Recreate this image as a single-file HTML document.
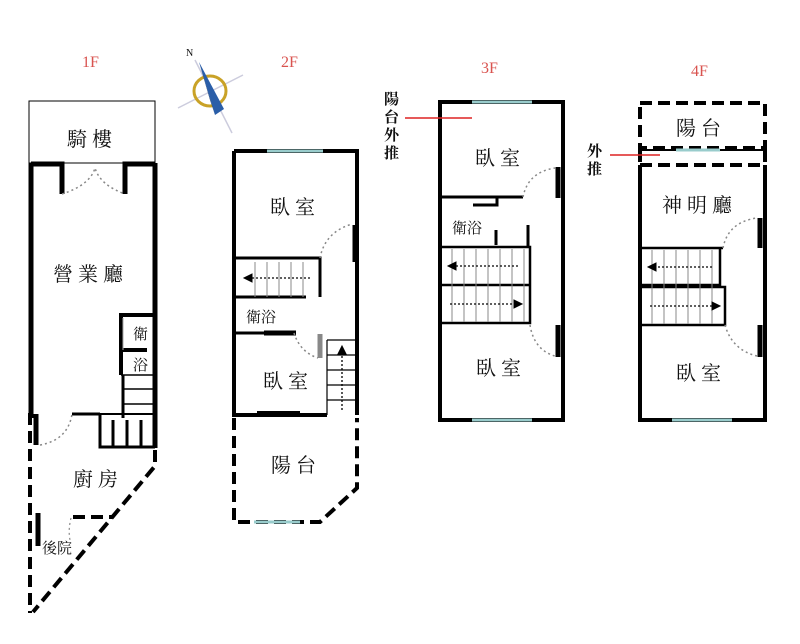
<!DOCTYPE html>
<html><head><meta charset="utf-8"><style>
html,body{margin:0;padding:0;background:#fff}
svg{display:block}
text{font-family:"Liberation Serif","Noto Serif CJK SC",serif;fill:#111}
.r{fill:#d9534f;font-size:16px}
</style></head><body>
<svg width="800" height="644" viewBox="0 0 800 644" xmlns="http://www.w3.org/2000/svg">
<text class="r" x="82" y="67">1F</text>
<text class="r" x="281" y="67">2F</text>
<text class="r" x="481" y="73">3F</text>
<text class="r" x="691" y="76">4F</text>
<g>
<line x1="178" y1="108" x2="243" y2="75" stroke="#ccd" stroke-width="1.5"/>
<line x1="195" y1="60" x2="232" y2="133" stroke="#ccd" stroke-width="1.5"/>
<ellipse cx="210" cy="91" rx="16" ry="15" fill="none" stroke="#c9a227" stroke-width="3"/>
<polygon points="199,62 224,109 215,115" fill="#2a5ea8"/>
<polygon points="199,62 210,100 215,115" fill="#163a70"/>
<text x="186" y="56" font-size="10">N</text>
</g>
<g fill="none" stroke="#000" stroke-linecap="butt">
<rect x="29" y="101" width="126" height="62" stroke-width="1"/>
<path d="M31,163 V418 M155,163 V448 M31,164 H62 V194 M125,194 V164 H155" stroke-width="5"/>
<path d="M62,194 Q90,185 95,168 Q100,185 125,194" stroke="#888" stroke-dasharray="2,3" stroke-width="1.5"/>
<path d="M121,375 V315 H155 M121,350 H147" stroke-width="4"/>
<path d="M123,318 V350" stroke="#aaa" stroke-width="1"/>
<path d="M121,375 H155 M123,389 H155 M123,404 H155" stroke-width="1.5"/>
<path d="M123,375 V418" stroke-width="3"/>
<path d="M72,414 H100 M100,414 V447 H155 M113,420 V447 M127,420 V447 M141,420 V447" stroke-width="3"/>
<path d="M100,414 H155" stroke-width="2"/>
<path d="M36,414 V445" stroke-width="5"/>
<path d="M40,445 Q68,440 72,414" stroke="#888" stroke-dasharray="2,3" stroke-width="1.5"/>
<path d="M30,413 V613 M155,450 V466 L33,612 M73,517 H112" stroke-width="4" stroke-dasharray="12,6"/>
<path d="M38,513 V546" stroke-width="5"/>
<path d="M71,518 Q68,530 70,540" stroke="#888" stroke-dasharray="2,3" stroke-width="1.2"/>
<path d="M234,151 H357 V415 M234,151 V415 H327" stroke-width="4"/>
<path d="M267,151 H323" stroke="#9cc" stroke-width="3"/>
<path d="M234,258 H320 V297 M234,297 H306" stroke-width="3"/>
<path d="M255,262 V297 M267,262 V297 M279,262 V297 M291,262 V297 M303,262 V297" stroke="#888" stroke-width="1"/>
<path d="M310,278 H247" stroke-width="1.3" stroke-dasharray="2,2"/>
<polygon points="244,278 252,274 252,282" fill="#000"/>
<path d="M355,225 V262" stroke-width="5"/>
<path d="M320,258 Q325,232 352,224" stroke="#888" stroke-dasharray="2,3" stroke-width="1.5"/>
<path d="M234,333 H264" stroke-width="3"/>
<path d="M264,333 H296" stroke-width="5"/>
<path d="M294,333 Q300,352 318,358" stroke="#888" stroke-dasharray="2,3" stroke-width="1.5"/>
<path d="M320,334 V358" stroke="#888" stroke-width="5"/>
<path d="M327,340 V415 M327,340 H357 M327,355 H357 M327,370 H357 M327,385 H357 M327,400 H357" stroke-width="1.2"/>
<path d="M342,410 V352" stroke-width="1.3" stroke-dasharray="2,2"/>
<polygon points="342,346 338,354 346,354" fill="#000"/>
<path d="M257,412 H300" stroke-width="2"/>
<path d="M234,418 V522 H320 L357,488 V418" stroke-width="4" stroke-dasharray="12,6"/>
<path d="M254,522 H300" stroke="#9cc" stroke-width="3"/>
<path d="M440,102 H563 V420 H440 Z" stroke-width="4"/>
<path d="M472,102 H532 M472,420 H532" stroke="#9cc" stroke-width="3"/>
<path d="M440,197 H523 M473,205 H497 V198 M496,230 V245 M528,225 V247" stroke-width="3"/>
<path d="M440,247 H530 V323 H440 M440,285 H530" stroke-width="2.5"/>
<path d="M452,249 V322 M464,249 V322 M476,249 V322 M488,249 V322 M500,249 V322 M512,249 V322 M524,249 V322" stroke="#888" stroke-width="1"/>
<path d="M518,266 H452 M450,304 H515" stroke-width="1.3" stroke-dasharray="2,2"/>
<polygon points="448,266 456,262 456,270" fill="#000"/>
<polygon points="522,304 514,300 514,308" fill="#000"/>
<path d="M558,167 V198 M558,325 V357" stroke-width="5"/>
<path d="M523,197 Q528,172 555,168 M530,325 Q534,350 555,356" stroke="#888" stroke-dasharray="2,3" stroke-width="1.5"/>
<line x1="405" y1="118" x2="472" y2="118" stroke="#d22" stroke-width="1.5"/>
<path d="M640,103 H765 V148 H640 Z" stroke-width="4" stroke-dasharray="12,6"/>
<path d="M640,150 V165 M765,150 V165 M640,165 H765" stroke-width="4" stroke-dasharray="12,6"/>
<path d="M640,150 H765" stroke-width="2"/>
<path d="M676,150 H720" stroke="#9cc" stroke-width="3"/>
<path d="M640,165 V420 H765 V165" stroke-width="4"/>
<path d="M672,420 H732" stroke="#9cc" stroke-width="3"/>
<path d="M640,248 H723 M720,248 V285 H640 M640,287 H725 V325 H640" stroke-width="2.5"/>
<path d="M652,250 V324 M664,250 V324 M676,250 V324 M688,250 V324 M700,250 V324 M712,250 V324" stroke="#888" stroke-width="1"/>
<path d="M712,267 H652 M650,306 H712" stroke-width="1.3" stroke-dasharray="2,2"/>
<polygon points="648,267 656,263 656,271" fill="#000"/>
<polygon points="720,306 712,302 712,310" fill="#000"/>
<path d="M760,218 V248 M760,325 V357" stroke-width="5"/>
<path d="M723,248 Q728,222 757,218 M725,325 Q732,350 757,356" stroke="#888" stroke-dasharray="2,3" stroke-width="1.5"/>
<line x1="610" y1="155" x2="660" y2="155" stroke="#d22" stroke-width="1.5"/>
</g>
<g font-size="20" letter-spacing="5">
<text x="67" y="146">騎樓</text>
<text x="53" y="281">營業廳</text>
<text x="73" y="486">廚房</text>
<text x="270" y="214">臥室</text>
<text x="263" y="388">臥室</text>
<text x="271" y="472">陽台</text>
<text x="475" y="165">臥室</text>
<text x="476" y="375">臥室</text>
<text x="676" y="135">陽台</text>
<text x="662" y="212">神明廳</text>
<text x="676" y="380">臥室</text>
</g>
<g font-size="15">
<text x="133" y="339">衛</text>
<text x="133" y="370">浴</text>
<text x="246" y="322">衛浴</text>
<text x="452" y="233">衛浴</text>
<text x="42" y="553">後院</text>
</g>
<g font-size="15" font-weight="bold">
<text x="384" y="104">陽</text>
<text x="384" y="122">台</text>
<text x="384" y="140">外</text>
<text x="384" y="158">推</text>
<text x="587" y="156">外</text>
<text x="587" y="174">推</text>
</g>
</svg>
</body></html>
